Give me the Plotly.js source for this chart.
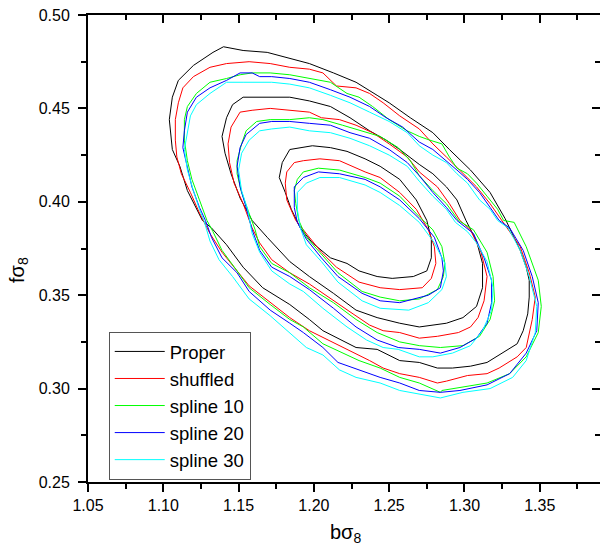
<!DOCTYPE html>
<html>
<head>
<meta charset="utf-8">
<script src="https://cdn.plot.ly/plotly-3.0.1.min.js"></script>
<style>html,body{margin:0;padding:0;background:#fff;}#chart{width:600px;height:548px;}</style>
</head>
<body>
<div id="chart"></div>
<script>
// ---- Data (bσ8, fσ8) contour levels ----
const seriesNames = ["Proper", "shuffled", "spline 10", "spline 20", "spline 30"];
const seriesColors = ["#000000", "#ff0000", "#00ff00", "#0000ff", "#00ffff"];

// Proper
const properOuterX = [1.140,1.153,1.169,1.184,1.197,1.213,1.228,1.242,1.250,1.264,1.279,1.290,1.304,1.317,1.327,1.337,1.341,1.343,1.343,1.342,1.339,1.335,1.325,1.315,1.304,1.292,1.282,1.270,1.257,1.242,1.228,1.206,1.197,1.184,1.166,1.153,1.142,1.132,1.126,1.116,1.111,1.106,1.104,1.106,1.110,1.120,1.133,1.140];
const properOuterY = [0.483,0.481,0.480,0.477,0.474,0.469,0.464,0.457,0.453,0.445,0.437,0.428,0.417,0.405,0.391,0.374,0.365,0.358,0.349,0.340,0.331,0.324,0.319,0.314,0.312,0.311,0.311,0.314,0.315,0.321,0.322,0.331,0.337,0.345,0.354,0.365,0.377,0.386,0.390,0.406,0.419,0.428,0.444,0.456,0.465,0.473,0.480,0.483];
const properMiddleX = [1.153,1.164,1.184,1.197,1.211,1.224,1.237,1.248,1.257,1.270,1.279,1.288,1.295,1.301,1.308,1.312,1.312,1.308,1.299,1.288,1.270,1.257,1.242,1.228,1.213,1.197,1.184,1.169,1.159,1.151,1.145,1.141,1.139,1.142,1.146,1.153];
const properMiddleY = [0.456,0.456,0.456,0.454,0.451,0.445,0.438,0.433,0.428,0.420,0.415,0.408,0.401,0.390,0.379,0.367,0.354,0.344,0.338,0.335,0.333,0.335,0.338,0.342,0.351,0.360,0.368,0.381,0.390,0.402,0.415,0.426,0.435,0.445,0.452,0.456];
const properInnerX = [1.199,1.211,1.222,1.234,1.244,1.257,1.268,1.275,1.278,1.278,1.275,1.266,1.252,1.242,1.230,1.222,1.211,1.199,1.191,1.185,1.181,1.177,1.179,1.184,1.199];
const properInnerY = [0.430,0.429,0.427,0.423,0.419,0.412,0.401,0.390,0.380,0.370,0.363,0.360,0.359,0.360,0.363,0.367,0.370,0.378,0.386,0.396,0.405,0.413,0.421,0.428,0.430];

// shuffled
const shuffledOuterX = [1.157,1.171,1.184,1.197,1.206,1.215,1.228,1.237,1.246,1.257,1.270,1.279,1.288,1.299,1.308,1.317,1.323,1.330,1.337,1.343,1.347,1.345,1.341,1.335,1.323,1.315,1.302,1.288,1.282,1.270,1.257,1.246,1.237,1.222,1.209,1.197,1.184,1.171,1.157,1.149,1.139,1.131,1.124,1.118,1.112,1.109,1.108,1.108,1.110,1.113,1.120,1.131,1.142,1.157];
const shuffledOuterY = [0.475,0.474,0.472,0.471,0.469,0.462,0.461,0.458,0.453,0.446,0.439,0.431,0.424,0.415,0.408,0.399,0.392,0.384,0.376,0.362,0.349,0.337,0.322,0.317,0.311,0.308,0.307,0.304,0.303,0.306,0.308,0.311,0.315,0.321,0.326,0.331,0.338,0.346,0.355,0.363,0.373,0.383,0.394,0.405,0.415,0.424,0.433,0.444,0.453,0.461,0.467,0.472,0.474,0.475];
const shuffledMiddleX = [1.151,1.159,1.171,1.184,1.197,1.205,1.217,1.228,1.239,1.250,1.262,1.270,1.282,1.290,1.297,1.304,1.311,1.315,1.313,1.309,1.304,1.296,1.282,1.270,1.257,1.246,1.237,1.226,1.213,1.197,1.184,1.172,1.164,1.159,1.153,1.147,1.144,1.143,1.145,1.151];
const shuffledMiddleY = [0.448,0.449,0.450,0.449,0.448,0.445,0.444,0.441,0.437,0.431,0.424,0.416,0.408,0.399,0.390,0.385,0.373,0.360,0.347,0.338,0.333,0.330,0.328,0.327,0.330,0.331,0.334,0.340,0.347,0.356,0.362,0.369,0.378,0.386,0.399,0.410,0.421,0.431,0.440,0.448];
const shuffledInnerX = [1.182,1.187,1.193,1.204,1.217,1.234,1.244,1.257,1.268,1.276,1.280,1.281,1.278,1.272,1.257,1.244,1.230,1.215,1.205,1.197,1.188,1.182,1.181,1.182];
const shuffledInnerY = [0.416,0.421,0.422,0.423,0.422,0.416,0.413,0.405,0.396,0.385,0.376,0.367,0.359,0.354,0.353,0.354,0.357,0.365,0.373,0.381,0.390,0.401,0.410,0.416];

// spline 10
const spline10OuterX = [1.159,1.171,1.184,1.197,1.211,1.222,1.230,1.239,1.250,1.262,1.270,1.277,1.285,1.290,1.295,1.302,1.308,1.315,1.322,1.326,1.333,1.341,1.349,1.351,1.349,1.341,1.330,1.315,1.299,1.285,1.284,1.270,1.257,1.244,1.230,1.217,1.206,1.193,1.184,1.171,1.157,1.149,1.139,1.133,1.129,1.124,1.119,1.116,1.114,1.114,1.116,1.122,1.131,1.142,1.151,1.159];
const spline10OuterY = [0.469,0.469,0.468,0.466,0.464,0.458,0.456,0.451,0.444,0.438,0.435,0.433,0.431,0.424,0.418,0.415,0.410,0.403,0.396,0.390,0.389,0.376,0.358,0.344,0.330,0.317,0.308,0.303,0.301,0.299,0.298,0.303,0.306,0.311,0.315,0.320,0.324,0.333,0.337,0.345,0.354,0.363,0.374,0.384,0.390,0.401,0.412,0.422,0.433,0.444,0.451,0.458,0.464,0.466,0.468,0.469];
const spline10MiddleX = [1.155,1.162,1.171,1.184,1.197,1.206,1.219,1.232,1.244,1.256,1.264,1.270,1.279,1.288,1.296,1.306,1.315,1.319,1.320,1.317,1.310,1.299,1.284,1.270,1.257,1.242,1.228,1.213,1.197,1.184,1.172,1.164,1.161,1.156,1.152,1.149,1.149,1.152,1.155];
const spline10MiddleY = [0.438,0.443,0.444,0.444,0.445,0.444,0.441,0.438,0.435,0.429,0.422,0.414,0.406,0.399,0.390,0.385,0.373,0.360,0.347,0.337,0.328,0.323,0.322,0.323,0.325,0.330,0.337,0.346,0.354,0.362,0.367,0.376,0.385,0.396,0.405,0.415,0.422,0.431,0.438];
const spline10InnerX = [1.187,1.189,1.193,1.203,1.217,1.234,1.244,1.257,1.270,1.279,1.285,1.287,1.286,1.282,1.270,1.257,1.244,1.232,1.216,1.205,1.195,1.190,1.188,1.187];
const spline10InnerY = [0.406,0.412,0.416,0.418,0.417,0.413,0.410,0.403,0.392,0.385,0.376,0.367,0.360,0.353,0.348,0.347,0.349,0.352,0.362,0.372,0.381,0.390,0.399,0.406];

// spline 20
const spline20OuterX = [1.151,1.159,1.164,1.172,1.184,1.197,1.211,1.224,1.237,1.248,1.259,1.270,1.279,1.288,1.295,1.302,1.310,1.317,1.323,1.330,1.339,1.345,1.349,1.348,1.341,1.330,1.315,1.297,1.284,1.270,1.257,1.244,1.230,1.216,1.206,1.193,1.184,1.171,1.157,1.149,1.139,1.132,1.128,1.124,1.119,1.116,1.113,1.114,1.116,1.122,1.131,1.142,1.151];
const spline20OuterY = [0.469,0.469,0.467,0.467,0.466,0.464,0.460,0.456,0.451,0.445,0.440,0.432,0.428,0.422,0.417,0.412,0.405,0.397,0.390,0.386,0.374,0.360,0.346,0.331,0.319,0.308,0.302,0.299,0.298,0.299,0.303,0.306,0.310,0.314,0.322,0.330,0.335,0.342,0.352,0.362,0.370,0.381,0.390,0.397,0.408,0.419,0.429,0.438,0.448,0.456,0.461,0.465,0.469];
const spline20MiddleX = [1.155,1.164,1.172,1.184,1.197,1.211,1.224,1.237,1.250,1.262,1.270,1.279,1.288,1.295,1.306,1.313,1.318,1.318,1.315,1.308,1.297,1.284,1.270,1.256,1.242,1.228,1.213,1.197,1.184,1.172,1.164,1.159,1.155,1.151,1.149,1.151,1.155];
const spline20MiddleY = [0.436,0.442,0.443,0.443,0.442,0.441,0.437,0.434,0.428,0.421,0.414,0.405,0.397,0.390,0.383,0.370,0.358,0.346,0.335,0.327,0.322,0.319,0.321,0.322,0.326,0.333,0.343,0.353,0.360,0.365,0.374,0.385,0.397,0.408,0.419,0.429,0.436];
const spline20InnerX = [1.187,1.187,1.193,1.203,1.217,1.234,1.244,1.257,1.270,1.280,1.285,1.286,1.284,1.276,1.257,1.244,1.232,1.216,1.205,1.195,1.189,1.187,1.187];
const spline20InnerY = [0.402,0.408,0.413,0.416,0.415,0.412,0.408,0.401,0.391,0.381,0.370,0.363,0.354,0.350,0.346,0.347,0.351,0.360,0.370,0.380,0.389,0.397,0.402];

// spline 30
const spline30OuterX = [1.153,1.164,1.172,1.184,1.197,1.211,1.224,1.237,1.250,1.262,1.270,1.279,1.288,1.295,1.302,1.310,1.317,1.322,1.329,1.337,1.343,1.348,1.347,1.341,1.332,1.317,1.299,1.284,1.270,1.257,1.244,1.228,1.217,1.206,1.195,1.184,1.171,1.157,1.146,1.137,1.131,1.127,1.124,1.120,1.116,1.114,1.116,1.118,1.122,1.131,1.142,1.153];
const spline30OuterY = [0.464,0.464,0.464,0.463,0.461,0.457,0.453,0.448,0.443,0.437,0.430,0.425,0.421,0.415,0.410,0.401,0.396,0.390,0.386,0.374,0.360,0.344,0.330,0.315,0.306,0.300,0.298,0.295,0.297,0.299,0.303,0.306,0.310,0.318,0.322,0.330,0.339,0.348,0.360,0.369,0.379,0.390,0.396,0.406,0.417,0.428,0.437,0.446,0.452,0.458,0.464,0.464];
const spline30MiddleX = [1.157,1.164,1.172,1.184,1.197,1.211,1.224,1.237,1.250,1.262,1.270,1.279,1.288,1.294,1.302,1.308,1.315,1.319,1.318,1.312,1.304,1.292,1.279,1.270,1.256,1.246,1.235,1.222,1.206,1.193,1.184,1.172,1.164,1.159,1.156,1.152,1.150,1.152,1.157];
const spline30MiddleY = [0.433,0.438,0.439,0.440,0.438,0.437,0.434,0.430,0.425,0.419,0.411,0.403,0.396,0.389,0.384,0.378,0.368,0.354,0.342,0.331,0.323,0.319,0.317,0.317,0.321,0.322,0.326,0.333,0.343,0.352,0.356,0.363,0.373,0.383,0.396,0.406,0.417,0.426,0.433];
const spline30InnerX = [1.189,1.195,1.204,1.217,1.234,1.244,1.257,1.270,1.280,1.287,1.288,1.285,1.276,1.263,1.244,1.232,1.216,1.205,1.195,1.191,1.189,1.189];
const spline30InnerY = [0.405,0.410,0.413,0.413,0.409,0.405,0.398,0.389,0.378,0.367,0.360,0.353,0.346,0.342,0.343,0.347,0.357,0.368,0.377,0.386,0.396,0.405];

// Axis ticks
const xTickVals = [1.05, 1.10, 1.15, 1.20, 1.25, 1.30, 1.35];
const xTickText = ["1.05", "1.10", "1.15", "1.20", "1.25", "1.30", "1.35"];
const yTickVals = [0.25, 0.30, 0.35, 0.40, 0.45, 0.50];
const yTickText = ["0.25", "0.30", "0.35", "0.40", "0.45", "0.50"];

// ---- Build traces ----
function joinRings(rings) {
  const out = [];
  rings.forEach((r, i) => { if (i > 0) out.push(null); out.push(...r); });
  return out;
}
const seriesX = [
  [properOuterX, properMiddleX, properInnerX],
  [shuffledOuterX, shuffledMiddleX, shuffledInnerX],
  [spline10OuterX, spline10MiddleX, spline10InnerX],
  [spline20OuterX, spline20MiddleX, spline20InnerX],
  [spline30OuterX, spline30MiddleX, spline30InnerX]
];
const seriesY = [
  [properOuterY, properMiddleY, properInnerY],
  [shuffledOuterY, shuffledMiddleY, shuffledInnerY],
  [spline10OuterY, spline10MiddleY, spline10InnerY],
  [spline20OuterY, spline20MiddleY, spline20InnerY],
  [spline30OuterY, spline30MiddleY, spline30InnerY]
];

const FONT = "Liberation Sans, Arial, Helvetica, sans-serif";
const traces = seriesNames.map((name, i) => ({
  type: "scatter",
  mode: "lines",
  name: name,
  x: joinRings(seriesX[i]),
  y: joinRings(seriesY[i]),
  connectgaps: false,
  line: { color: seriesColors[i], width: 1 },
  hoverinfo: "skip"
}));
// helper trace so the mirrored (top/right) axes are drawn
traces.push({ type: "scatter", mode: "lines", x: [null], y: [null], xaxis: "x2", yaxis: "y2", showlegend: false, hoverinfo: "skip" });

const xRange = [1.05, 1.39];
const yRange = [0.25, 0.50];

const layout = {
  width: 600,
  height: 548,
  margin: { l: 88, r: 0, t: 15, b: 66, pad: 0 },
  paper_bgcolor: "#ffffff",
  plot_bgcolor: "#ffffff",
  font: { family: FONT, size: 16, color: "#000" },
  showlegend: true,
  legend: {
    x: 0.0405, y: 0.3214, xanchor: "left", yanchor: "top",
    bgcolor: "#ffffff", bordercolor: "#555555", borderwidth: 1,
    font: { family: FONT, size: 18.5, color: "#000" },
    itemwidth: 50,
    tracegroupgap: 0
  },
  xaxis: {
    range: xRange, autorange: false, automargin: false,
    showgrid: false, zeroline: false,
    showline: true, linecolor: "#000", linewidth: 2, mirror: false,
    ticks: "outside", ticklen: 8, tickwidth: 2, tickcolor: "#000",
    tickvals: xTickVals, ticktext: xTickText,
    ticklabelstandoff: 0,
    minor: { ticks: "outside", ticklen: 5, tickwidth: 2, tickcolor: "#000", dtick: 0.025, tick0: 1.05, showgrid: false },
    tickfont: { family: FONT, size: 16, color: "#000" }
  },
  yaxis: {
    range: yRange, autorange: false, automargin: false,
    showgrid: false, zeroline: false,
    showline: true, linecolor: "#000", linewidth: 2, mirror: false,
    ticks: "outside", ticklen: 8, tickwidth: 2, tickcolor: "#000",
    tickvals: yTickVals, ticktext: yTickText,
    ticklabelstandoff: 5,
    minor: { ticks: "outside", ticklen: 5, tickwidth: 2, tickcolor: "#000", dtick: 0.025, tick0: 0.25, showgrid: false },
    tickfont: { family: FONT, size: 16, color: "#000" }
  },
  xaxis2: {
    overlaying: "x", side: "top", anchor: "y",
    range: xRange, autorange: false, automargin: false,
    showgrid: false, zeroline: false, showticklabels: false,
    showline: true, linecolor: "#000", linewidth: 2,
    ticks: "inside", ticklen: 8, tickwidth: 2, tickcolor: "#000",
    tickvals: xTickVals,
    minor: { ticks: "inside", ticklen: 5, tickwidth: 2, tickcolor: "#000", dtick: 0.025, tick0: 1.05, showgrid: false }
  },
  yaxis2: {
    overlaying: "y", side: "right", anchor: "x",
    range: yRange, autorange: false, automargin: false,
    showgrid: false, zeroline: false, showticklabels: false,
    showline: true, linecolor: "#000", linewidth: 2,
    ticks: "inside", ticklen: 8, tickwidth: 2, tickcolor: "#000",
    tickvals: yTickVals,
    minor: { ticks: "inside", ticklen: 5, tickwidth: 2, tickcolor: "#000", dtick: 0.025, tick0: 0.25, showgrid: false }
  },
  annotations: [
    { text: "bσ<sub>8</sub>", xref: "paper", yref: "paper", x: 0.503, y: -0.11,
      xanchor: "center", yanchor: "middle", showarrow: false,
      font: { family: FONT, size: 20, color: "#000" } },
    { text: "fσ<sub>8</sub>", xref: "paper", yref: "paper", x: -0.137, y: 0.4536,
      xanchor: "center", yanchor: "middle", textangle: -90, showarrow: false,
      font: { family: FONT, size: 20, color: "#000" } }
  ]
};

Plotly.newPlot("chart", traces, layout, { displayModeBar: false, staticPlot: true });
</script>
</body>
</html>
